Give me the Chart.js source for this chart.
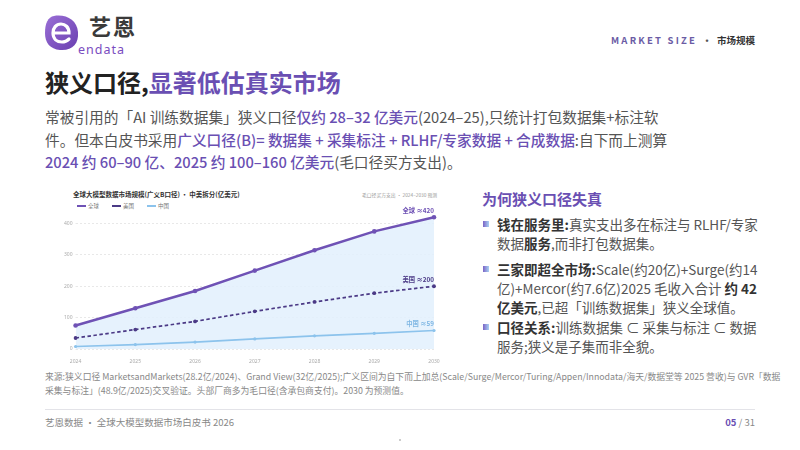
<!DOCTYPE html>
<html>
<head>
<meta charset="utf-8">
<script src="https://cdn.jsdelivr.net/npm/chart.js@4.4.0/dist/chart.umd.min.js"></script>
<style>
  html, body { margin: 0; padding: 0; background: #fff; }
  body { width: 800px; height: 450px; position: relative; overflow: hidden;
         font-family: "Noto Sans CJK SC", "Noto Sans", sans-serif; color: #333; }
  .abs { position: absolute; white-space: nowrap; }
  .hl { color: #6a4fb3; font-weight: 500; }
  .pur { color: #6a4fb3; }
  #chartBox { position: absolute; left: 40px; top: 200px; width: 410px; height: 168px; }
  .leg { position: absolute; top: 203px; font-size: 5.5px; color: #777; line-height: 6px; }
  .leg i { position: absolute; top: 2px; width: 9px; height: 0; }
  .bul { position: absolute; left: 483px; width: 6px; height: 6px;
         background: linear-gradient(90deg, #7b63c6, #a9d2f3); }
  .side { position: absolute; left: 497px; font-size: 13.5px; line-height: 19px; color: #555; white-space: nowrap; }
  .side b { color: #333; font-weight: 700; }
</style>
</head>
<body>

<!-- header / logo -->
<svg class="abs" style="left:44px;top:14px" width="36" height="38" viewBox="0 0 36 38">
  <defs>
    <linearGradient id="lg" x1="0" y1="0" x2="1" y2="1">
      <stop offset="0" stop-color="#9a6fd6"/>
      <stop offset="1" stop-color="#6a3fb0"/>
    </linearGradient>
  </defs>
  <path d="M10 2 C22 0 33 6 34 18 C35 30 28 37 16 36 C6 35 1 29 1 19 C1 9 4 3 10 2 Z" fill="url(#lg)"/>
  <path d="M11 19 H25 C25 13 21 10 17 10 C12 10 9 14 9 19 C9 25 13 28 18 28 C21 28 23 27 25 25" fill="none" stroke="#fff" stroke-width="3.2" stroke-linecap="round"/>
</svg>
<div class="abs" style="left:89px;top:13px;font-size:22px;font-weight:700;color:#3a3a3a;line-height:24px;letter-spacing:2px">艺恩</div>
<div class="abs" style="left:78px;top:44px;font-size:12.5px;color:#7a4cc0;line-height:12px;font-family:'Noto Sans',sans-serif;letter-spacing:1px">endata</div>

<div class="abs" style="right:45px;top:33px;font-size:9.5px;font-weight:700;line-height:14px">
  <span style="color:#6b5ca5;letter-spacing:2.2px">MARKET SIZE</span>
  <span style="color:#555;margin:0 3px">·</span>
  <span style="color:#333">市场规模</span>
</div>

<div class="abs" style="left:45px;top:66px;font-size:24px;font-weight:700;line-height:32px;color:#222">狭义口径,<span class="pur">显著低估真实市场</span></div>

<div class="abs" style="left:45px;top:106px;font-size:14.7px;line-height:22.5px;color:#555">
常被引用的「AI 训练数据集」狭义口径<span class="hl">仅约 28–32 亿美元</span>(2024–25),只统计打包数据集+标注软<br>
件。但本白皮书采用<span class="hl">广义口径(B)= 数据集 + 采集标注 + RLHF/专家数据 + 合成数据</span>:自下而上测算<br>
<span class="hl">2024 约 60–90 亿、2025 约 100–160 亿美元</span>(毛口径买方支出)。
</div>

<!-- chart header -->
<div class="abs" style="left:73px;top:190px;font-size:6.5px;font-weight:700;color:#333;line-height:9px">全球大模型数据市场规模(广义B口径) · 中美拆分(亿美元)</div>
<div class="abs" style="left:362px;top:191px;font-size:4.8px;color:#999;line-height:7px">毛口径买方支出 · 2024–2030 预测</div>
<div class="leg" style="left:77px"><i style="left:0;border-top:2.5px solid #6f52b5"></i><span style="margin-left:11px">全球</span></div>
<div class="leg" style="left:112px"><i style="left:0;border-top:2px dashed #4b3a86"></i><span style="margin-left:11px">美国</span></div>
<div class="leg" style="left:147px"><i style="left:0;border-top:2px solid #8cc3ec"></i><span style="margin-left:11px">中国</span></div>

<div id="chartBox"><canvas id="c"></canvas></div>

<!-- side panel -->
<div class="abs" style="left:482px;top:188px;font-size:15px;font-weight:700;color:#6a4fb3;line-height:22px">为何狭义口径失真</div>
<div class="bul" style="top:221px"></div>
<div class="side" style="top:214.5px"><b>钱在服务里:</b>真实支出多在标注与 RLHF/专家<br>数据<b>服务</b>,而非打包数据集。</div>
<div class="bul" style="top:266px"></div>
<div class="side" style="top:259.5px"><b>三家即超全市场:</b>Scale(约20亿)+Surge(约14<br>亿)+Mercor(约7.6亿)2025 毛收入合计 <b>约 42<br>亿美元</b>,已超「训练数据集」狭义全球值。</div>
<div class="bul" style="top:324px"></div>
<div class="side" style="top:317.5px"><b>口径关系:</b>训练数据集 ⊂ 采集与标注 ⊂ 数据<br>服务;狭义是子集而非全貌。</div>

<!-- source / footer -->
<div class="abs" style="left:45px;top:370px;font-size:8.8px;line-height:13.5px;color:#888">
来源:狭义口径 MarketsandMarkets(28.2亿/2024)、Grand View(32亿/2025);广义区间为自下而上加总(Scale/Surge/Mercor/Turing/Appen/Innodata/海天/数据堂等 2025 营收)与 GVR「数据<br>
采集与标注」(48.9亿/2025)交叉验证。头部厂商多为毛口径(含承包商支付)。2030 为预测值。
</div>
<div class="abs" style="left:45px;top:409px;width:710px;height:1px;background:#e3e3e8"></div>
<div class="abs" style="left:45px;top:415px;font-size:9.5px;line-height:14px;color:#888">艺恩数据 · 全球大模型数据市场白皮书 2026</div>
<div class="abs" style="right:45px;top:415px;font-size:9.5px;line-height:14px;color:#888"><b style="color:#6a4fb3">05</b> / 31</div>
<div class="abs" style="left:399px;top:439px;width:2px;height:2px;background:#bbb;border-radius:1px"></div>

<script>
// data (亿美元)
const years = ["2024", "2025", "2026", "2027", "2028", "2029", "2030"];
const globalVals = [75, 130, 185, 250, 315, 375, 420];
const usVals = [35, 62, 88, 120, 150, 178, 200];
const cnVals = [8, 14, 22, 32, 42, 50, 59];
const endLabels = ["全球 ≈420", "美国 ≈200", "中国 ≈59"];
const yTicks = [0, 100, 200, 300, 400];

const PURPLE = "#6f52b5";
const DARK = "#4b3a86";
const LIGHT = "#8cc3ec";

// text at the last point of each line
const endLabelPlugin = {
    id: "endLabels",
    afterDatasetsDraw(chart) {
        const ctx = chart.ctx;
        const colors = [PURPLE, DARK, "#7fb7e4"];
        ctx.save();
        ctx.textAlign = "right";
        ctx.textBaseline = "bottom";
        ctx.font = "700 6.3px 'Noto Sans CJK SC'";
        chart.data.datasets.forEach((ds, i) => {
            const pts = chart.getDatasetMeta(i).data;
            const p = pts[pts.length - 1];
            ctx.fillStyle = colors[i];
            ctx.fillText(endLabels[i], p.x, p.y - 4);
        });
        ctx.restore();
    }
};

new Chart(document.getElementById("c"), {
    type: "line",
    data: {
        labels: years,
        datasets: [
            {
                label: "全球",
                data: globalVals,
                borderColor: PURPLE,
                borderWidth: 2.5,
                backgroundColor: "rgba(226,240,253,0.85)",
                fill: "origin",
                pointRadius: 2.3,
                pointBackgroundColor: PURPLE,
                pointBorderWidth: 0,
                tension: 0
            },
            {
                label: "美国",
                data: usVals,
                borderColor: DARK,
                borderWidth: 1.7,
                borderDash: [3.5, 2.5],
                fill: false,
                pointRadius: 1.9,
                pointBackgroundColor: DARK,
                pointBorderWidth: 0,
                tension: 0
            },
            {
                label: "中国",
                data: cnVals,
                borderColor: LIGHT,
                borderWidth: 1.7,
                fill: false,
                pointRadius: 1.6,
                pointBackgroundColor: LIGHT,
                pointBorderWidth: 0,
                tension: 0
            }
        ]
    },
    options: {
        responsive: true,
        maintainAspectRatio: false,
        animation: false,
        layout: { padding: { top: 11, right: 16, bottom: 1, left: 21 } },
        plugins: {
            legend: { display: false },
            tooltip: { enabled: false },
            filler: { drawTime: "beforeDatasetsDraw" }
        },
        scales: {
            x: {
                grid: { display: false },
                border: { display: false },
                ticks: { color: "#aaa", font: { size: 5, family: "Noto Sans" }, padding: 2, maxRotation: 0 }
            },
            y: {
                min: 0,
                max: 440,
                afterBuildTicks(axis) { axis.ticks = yTicks.map(v => ({ value: v })); },
                grid: { color: "#e2e2e2", lineWidth: 0.8, tickLength: 0 },
                border: { display: false, dash: [2, 2] },
                ticks: { color: "#aaa", font: { size: 5, family: "Noto Sans" }, padding: 3 }
            }
        }
    },
    plugins: [endLabelPlugin]
});
</script>
</body>
</html>
